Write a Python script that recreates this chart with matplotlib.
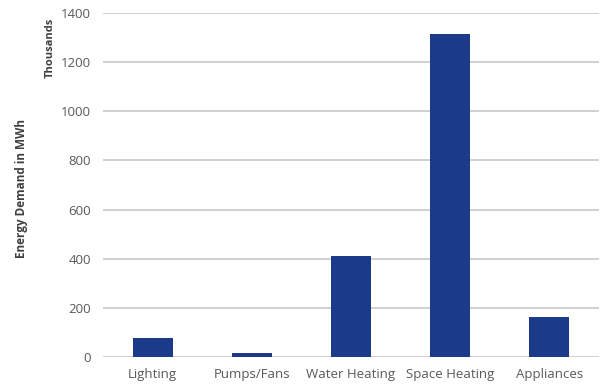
import matplotlib.pyplot as plt

categories = ["Lighting", "Pumps/Fans", "Water Heating", "Space Heating", "Appliances"]
demand_thousands = [77, 16, 411, 1315, 163]
yticks = [0, 200, 400, 600, 800, 1000, 1200, 1400]

plt.rcParams['font.family'] = ['Open Sans', 'DejaVu Sans']

fig = plt.figure(figsize=(6.0, 3.85), dpi=100)
ax = fig.add_axes([0.172, 0.073, 0.826, 0.893])

ax.bar(range(len(categories)), demand_thousands, width=0.4, color='#1c3a8a', zorder=3)

ax.set_xlim(-0.5, len(categories) - 0.5)
ax.set_ylim(0, 1400)
ax.set_yticks(yticks)
ax.set_xticks(range(len(categories)))
ax.set_xticklabels(categories)
ax.grid(axis='y', color='#c8c8c8', linewidth=1.2, zorder=0)
ax.tick_params(axis='both', length=0, labelsize=9.5, colors='#595959', pad=8)
ax.tick_params(axis='y', pad=9)
for s in ax.spines.values():
    s.set_visible(False)

fig.text(0.035, 0.51, "Energy Demand in MWh", rotation=90, ha='center', va='center',
         fontsize=8.5, fontweight='bold', color='#404040')
fig.text(0.083, 0.875, "Thousands", rotation=90, ha='center', va='center',
         fontsize=8, fontweight='bold', color='#404040')

fig.savefig("out.png", dpi=100)
